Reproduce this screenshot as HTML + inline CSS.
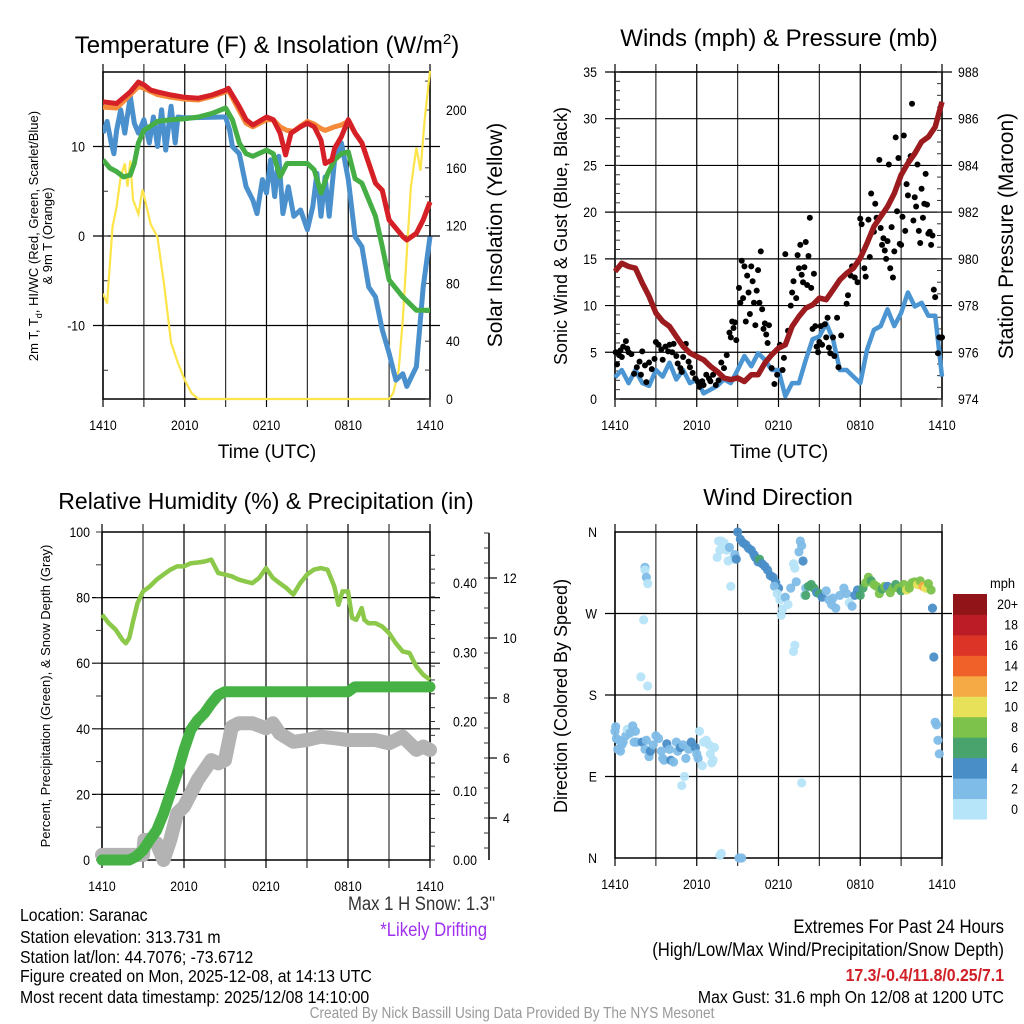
<!DOCTYPE html>
<html><head><meta charset="utf-8"><style>
html,body{margin:0;padding:0;background:#fff;}
svg{display:block;font-family:"Liberation Sans",sans-serif;}
</style></head><body>
<svg id="c" width="1024" height="1024" viewBox="0 0 1024 1024" xmlns="http://www.w3.org/2000/svg"></svg>
<script>
// ---------- Panel 1 data (hours since 1410 UTC) ----------
const redT=[0,15.0,1,14.8,2,16.1,2.6,17.2,3,16.9,3.5,16.3,4,16.1,5,15.75,6,15.5,7,15.4,8,15.75,9,16.3,9.2,16.5,10,14.45,10.5,13.0,11,12.4,12,13.3,12.5,13.0,13,11.5,13.4,9.05,13.8,11.5,14.5,12.2,15,12.6,15.5,12.2,16,10.7,16.3,8.1,16.8,8.5,17,9.8,17.5,11.1,18,13.0,18.5,11.5,19,10.4,20,5.9,20.5,5.1,21,1.8,22,-0.07,22.3,-0.45,23,0.3,23.5,1.8,24,3.8];
const orangeT=[0,14.4,1,14.3,2,15.8,2.6,16.7,3,16.5,4,15.8,5,15.5,6,15.3,7,15.2,8,15.6,9,16.1,9.2,16.3,10,14.0,10.5,12.6,11,12.2,12,13.0,12.5,13.0,13,12.2,13.5,11.8,14,11.7,14.5,12.3,15,12.8,15.5,12.5,16,12.0,16.3,11.8,17,12.2,17.5,12.4,18,12.8,18.5,11.5,19,10.4,20,5.9,20.5,5.1,21,1.8,22,-0.07,22.3,-0.45,23,0.3,23.5,1.8,24,3.8];
const greenTd=[0,8.5,0.5,7.6,1,7.2,1.5,6.6,2,6.8,2.3,8.1,2.6,10.4,3,11.8,4,12.8,5,13.0,6,13.1,7,13.3,8,13.7,9,14.3,9.5,13.0,10,10.4,10.5,9.2,11,8.9,12,9.6,12.5,9.2,13,6.6,13.5,8.1,14,8.1,15,8.1,15.5,7.4,16,4.8,16.5,7.0,17,8.5,17.5,9.2,18,9.4,18.5,6.4,19,5.9,20,2.2,20.5,-1.2,21,-4.9,22,-6.8,23,-8.3,24,-8.3];
const blueWC=[0,11.5,0.3,12.8,0.6,10.4,0.8,9.2,1,11.8,1.3,14.1,1.6,11.5,2,15.6,2.3,12.6,2.6,11.5,3,13.0,3.4,10.4,3.7,13.3,4,10.0,4.3,14.1,4.6,9.6,5,14.5,5.3,10.4,5.5,13.3,6,13.2,8.8,13.3,9,13.3,9.3,11.8,9.5,10.0,10,9.2,10.5,5.5,11,4.0,11.3,2.5,11.7,6.3,12,4.8,12.3,8.5,12.6,4.4,12.9,8.9,13.2,2.5,13.6,5.5,14,2.2,14.5,2.9,15,0.7,15.4,3.3,15.7,7.0,16,2.2,16.3,6.6,16.6,2.2,17,8.5,17.5,10.4,18,6.3,18.5,-0.07,19,-1.2,19.5,-5.7,20,-6.8,20.5,-10.5,21,-13.1,21.5,-16.1,22,-15.4,22.3,-16.8,23,-14.6,23.5,-5.7,24,-0.07];
const solar=[0,73,0.3,66,0.7,119,1,133,1.3,154,1.6,163,1.8,147,2,165,2.2,138,2.6,128,2.9,145,3.2,133,3.5,121,4,112,4.5,78,5,39,5.5,25,6,13,6.5,4,7,0,21,0,21.3,4,21.7,20,22,55,22.3,101,22.6,147,23,174,23.3,158,23.6,193,24,227];
// ---------- Panel 2 data ----------
const pressure=[0,979.46,0.5,979.81,1,979.67,1.5,979.6,2,978.96,2.5,978.39,3,977.68,3.5,977.32,4,977.11,4.5,976.68,5,976.25,5.5,975.97,6,975.82,6.5,975.68,7,975.4,7.5,975.18,8,974.9,8.5,974.83,9,974.9,9.5,974.75,10,975.04,10.5,975.04,11,975.54,11.5,975.89,12,976.18,12.5,976.32,13,977.11,13.5,977.53,14,977.89,14.5,978.03,15,978.32,15.5,978.25,16,978.67,16.5,979.1,17,979.38,17.5,979.6,18,980.03,18.5,980.67,19,981.38,19.5,981.81,20,982.23,20.5,982.8,21,983.59,21.5,984.09,22,984.51,22.5,985.01,23,985.22,23.5,985.65,24,986.72];
const windSpd=[0,2.3,0.5,3.1,1,1.7,1.5,3.1,2,1.7,2.5,1.4,3,3.1,3.5,2.4,4,3.9,4.5,2.1,5,3.1,5.5,1.7,6,2.1,6.5,0.6,7,1.0,7.5,1.4,8,2.1,8.5,1.7,9,3.1,9.5,4.6,10,3.5,10.5,4.9,11,4.2,11.5,3.1,12,3.1,12.5,0.3,13,1.7,13.5,1.7,14,4.2,14.5,6.4,15,6.7,15.5,8.1,16,6.4,16.5,3.1,17,3.1,17.5,2.4,18,1.7,18.5,5.3,19,7.4,19.5,7.8,20,9.6,20.5,7.8,21,9.2,21.5,11.4,22,9.9,22.5,10.3,23,8.9,23.5,8.9,24,2.4];
const gustT=[0.05,0.15,0.3,0.4,0.5,0.6,0.8,0.9,1,1.2,1.4,1.6,1.8,1.9,2.0,2.2,2.3,2.5,2.7,2.9,3.0,3.2,3.4,3.5,3.7,3.9,4.0,4.2,4.3,4.5,4.6,4.8,4.9,5.0,5.2,5.4,5.5,5.7,5.9,6.1,6.2,6.4,6.5,6.7,6.9,7.0,7.2,7.4,7.6,7.8,8.0,8.2,8.4,8.5,8.6,8.7,8.8,8.9,9.1,9.2,9.3,9.4,9.5,9.6,9.7,9.8,9.9,10.0,10.1,10.2,10.3,10.4,10.5,10.6,10.7,10.8,10.9,11.0,11.1,11.2,11.3,11.5,11.7,11.9,12.1,12.3,12.4,12.5,12.7,12.9,13.0,13.1,13.3,13.4,13.5,13.6,13.7,13.8,13.9,14.0,14.1,14.2,14.3,14.4,14.5,14.6,14.7,14.8,14.9,15.0,15.1,15.2,15.4,15.5,15.6,15.7,15.8,16.0,16.1,16.3,16.4,16.6,17.0,17.1,17.3,17.4,17.6,17.8,18.0,18.1,18.3,18.4,18.6,18.7,18.8,19.0,19.1,19.2,19.4,19.5,19.6,19.7,19.8,19.9,20.0,20.1,20.2,20.3,20.4,20.5,20.6,20.7,20.8,20.9,21.0,21.1,21.2,21.3,21.4,21.5,21.6,21.7,21.8,21.9,22.0,22.1,22.2,22.3,22.4,22.5,22.6,22.7,22.8,22.9,23.0,23.1,23.2,23.3,23.4,23.5,23.7,23.8,24.0];
const gustV=[5,3.7,4.7,5.2,4.5,5.6,6.2,5.4,5,4.8,2.7,3.4,4,2.6,5.1,3.6,1.8,3.9,3.2,4.3,6.1,5.8,5.3,4.2,5.6,5.1,5.8,5.0,5.9,4.6,3.8,3.3,2.9,4.5,5.9,4.0,3.4,2.8,2.2,1.8,1.3,1.9,1.5,2.6,2.2,1.9,2.6,1.5,2.0,3.9,3.3,4.7,7.1,6.6,8.3,7.6,8.2,6.3,11.9,10.3,14.8,10.8,14.2,8.3,13.2,11.4,9.1,14.2,12.6,10.3,7.9,11.6,13.8,10.3,15.8,9.6,7.5,8.1,6.9,6.0,7.9,3.3,1.6,2.6,5.8,3.1,4.4,15.5,7.3,10.0,11.4,12.6,10.8,15.4,14.0,16.5,13.3,12.5,14.1,16.8,12.2,15.3,19.4,11.9,7.5,13.4,7.8,5.6,5.0,6.1,7.8,5.8,8.0,6.6,8.7,5.5,4.9,6.6,4.6,8.7,3.4,6.8,10.2,11.1,13.2,14.2,13.0,12.5,19.3,18.7,14.0,13.1,19.2,15.2,22.0,17.9,20.9,19.4,25.6,18.3,16.5,17.2,15.9,15.0,16.9,25.1,14.0,18.4,13.0,15.8,28.0,20.1,25.8,16.6,16.5,19.5,28.2,18.0,23.0,21.8,25.5,26.0,31.6,19.1,21.6,20.6,25.1,18.0,16.7,22.5,19.4,20.9,24.1,20.8,17.7,17.9,16.5,17.5,11.7,10.9,4.9,6.6,6.6];
// ---------- Panel 3 data ----------
const rh=[0,74.8,0.5,72.2,1,70.2,1.5,67.1,1.75,66.1,2,67.7,2.3,73.2,2.6,78.3,3,81.9,3.5,83.4,4,85.5,4.5,87,5,88.5,5.5,89.5,6,89.5,6.5,90.5,7,90.7,7.5,91,8,91.6,8.5,87.5,9,87,9.5,86.5,10,85.5,10.5,84.9,11,84.4,11.5,86,12,89,12.5,86,13,84.4,13.5,82.9,14,80.9,14.5,84.4,15,87,15.5,88.5,16,89,16.5,88.5,17,83.4,17.3,77.8,17.6,81.9,18,81.9,18.3,73.8,18.6,73.2,19,76.8,19.2,73.2,19.5,72.2,20,72.2,20.5,71.2,21,69.2,21.5,66.1,22,63.6,22.5,63.1,23,59,23.5,56.5,24,54.9];
const precip=[0,0,2,0,2.5,0.005,3,0.014,3.5,0.029,4,0.043,4.5,0.067,5,0.096,5.5,0.125,6,0.159,6.5,0.188,7,0.202,7.5,0.212,8,0.226,8.5,0.238,9,0.243,18,0.243,18.5,0.25,24,0.25];
const snow=[0,2.77,3.0,2.77,3.1,3.27,3.5,3.27,4,3.16,4.5,2.6,5,3.27,5.5,4.16,6,4.38,6.5,4.82,7,5.27,7.5,5.6,8,5.93,8.5,5.82,9,5.93,9.5,7.04,10,7.16,11,7.16,12,6.99,12.5,7.16,13,6.82,14,6.54,15,6.6,16,6.71,17,6.66,18,6.6,20,6.6,21,6.49,22,6.71,23,6.27,23.5,6.38,24,6.27];
// ---------- Panel 4 data (hour, direction deg, speed mph) ----------
const dirT=[0,0.05,0.1,0.2,0.3,0.4,0.5,0.6,0.8,0.9,1.1,1.3,1.5,1.6,1.4,2.0,2.2,2.3,2.5,2.6,2.8,3.0,3.2,3.4,3.5,3.6,3.8,4.0,4.1,4.3,4.5,4.6,4.8,5.0,5.2,5.4,5.6,5.9,6.0,6.1,6.2,6.4,6.5,6.7,6.9,7.0,7.1,7.2,7.3,5.1,4.9,2.2,2.2,2.3,2.4,2.1,1.9,2.4,7.6,7.8,8.0,7.7,7.5,8.2,8.4,8.6,8.3,8.5,8.8,8.9,7.7,7.8,9.1,9.3,9.0,9.2,9.4,9.6,9.8,10.0,10.2,10.3,10.5,10.6,10.8,11.0,11.2,11.4,11.6,11.8,12.0,11.7,11.9,12.1,12.2,12.3,12.5,12.7,12.9,13.1,13.2,13.3,13.5,13.6,13.7,13.8,14.0,13.9,13.2,13.1,13.7,14.0,14.2,14.4,14.6,14.8,15.0,15.2,15.5,15.7,15.9,16.0,16.2,16.5,16.8,17.0,17.2,17.4,17.6,17.8,18.0,18.2,18.4,18.6,18.8,19.0,19.2,19.4,19.6,19.8,20.0,20.2,20.4,20.6,20.8,21.0,21.2,21.4,21.6,21.8,22.0,22.2,22.4,22.6,22.8,23.0,23.2,23.3,23.4,23.5,23.6,23.7,23.8];
const dirDeg=[140,145,132,120,130,118,125,128,135,142,138,146,140,128,128,128,120,130,112,118,125,135,132,118,110,108,126,120,108,106,128,118,122,125,110,120,128,122,115,110,140,102,128,130,125,115,105,108,122,90,80,321,318,310,303,263,200,190,350,350,348,340,332,340,343,330,328,300,335,330,3,5,0,0,360,352,348,346,342,340,335,332,327,330,325,322,318,312,310,304,298,300,292,285,268,275,288,280,298,325,320,305,338,350,345,328,298,290,235,228,83,290,300,302,298,293,292,288,295,285,280,287,276,290,298,292,282,278,290,296,290,298,304,310,306,302,300,292,297,300,300,293,298,302,298,295,302,296,298,304,305,302,306,300,298,303,296,276,222,150,147,130,115];
const dirSpd=[3,3,3,3,3,3,3,3,3,1, 3,3,3,3,3,5,3,3,3,5, 3,3,3,3,3,3,5,3,5,3, 3,3,5,3,3,3,5,5,3,3, 1,1,1,1,1,1,1,1,1, 1,1, 3,1,3,1,1,1,1, 1,1,1,1,1,1,3,1,1,1, 3,5,1,1,3,3, 5,5,5,5,5,5,5,5,5,7, 5,5,5,5,5,5,5,3,1,1, 1,1,3,1,3,1,1,3,3,3, 3,5,3,1,1,1,1, 7,7,7,7,5,7,5,3,3,3, 3,3,3,3,3,1,3,5,5,7, 7,9,9,7,9,9,9,7,9,5, 9,9,7,9,7,9,11,9,9,9, 11,9,13,11,9,9,5,5,3,3, 3,3];
const binLabels=["0","2","4","6","8","10","12","14","16","18","20+"];
const binColors=["#b6e4f8","#7fbce7","#4a8ec8","#48a46c","#7cc24b","#e6e158","#f6aa46","#ef6128","#dc3427","#bb1c25","#911518"];
const timeLabels=["1410","2010","0210","0810","1410"];

const svg=document.getElementById('c');
const NS="http://www.w3.org/2000/svg";
function el(tag,attrs,parent){const e=document.createElementNS(NS,tag);for(const k in attrs)e.setAttribute(k,attrs[k]);(parent||svg).appendChild(e);return e;}
function txt(s,x,y,size,anchor,parent,extra){const t=el('text',Object.assign({x:x,y:y,'font-size':size,'text-anchor':anchor||'middle',fill:'#000'},extra||{}),parent);t.textContent=s;return t;}
function ntxt(s,x,y,size,anchor,parent,extra){const gg=el('g',{transform:'translate('+x+','+y+') scale(0.88,1)'},parent);return txt(s,0,0,size,anchor,gg,extra);}
function pts(arr,fx,fy){let d='';for(let i=0;i<arr.length;i+=2)d+=(i?'L':'M')+fx(arr[i]).toFixed(1)+','+fy(arr[i+1]).toFixed(1);return d;}

function frame(x0,x1,y0,y1,g,hY){
  for(let h=0;h<=24;h+=3){const x=x0+(x1-x0)*h/24;const l=el('line',{x1:x,x2:x,y1:y0-8,y2:y1+8,stroke:(h%6==0)?'#000':'#333','stroke-width':1.2},g);}
  hY.forEach(y=>{const l=el('line',{x1:x0-10,x2:x1+10,y1:y,y2:y,stroke:'#000','stroke-width':1.2},g);});
  el('rect',{x:x0,y:y0,width:x1-x0,height:y1-y0,fill:'none',stroke:'#000','stroke-width':1.5},g);
  for(let i=0;i<timeLabels.length;i++){const t=ntxt(timeLabels[i],x0+(x1-x0)*i/4,y1+31,14,'middle',g);}
}
function minor(x,ys,dir,g){ys.forEach(y=>el('line',{x1:x,x2:x+dir*5,y1:y,y2:y,stroke:'#333','stroke-width':1},g));}

// ================= Panel 1 =================
(function(){
const g=el('g',{});
const x0=103,x1=430,y0=72,y1=399;
const X=h=>x0+(x1-x0)*h/24, T=v=>236-8.95*v, S=v=>399-1.445*v;
frame(x0,x1,y0,y1,g,[T(10),T(0),T(-10)]);
const mi=[];for(let v=-15;v<=15;v+=5)mi.push(T(v));minor(x0,mi,1,g);
const ms=[];for(let v=0;v<=220;v+=20)ms.push(S(v));minor(x1,ms,-1,g);
[10,0,-10].forEach(v=>{const t=ntxt(String(v),x0-18,T(v)+5,14,'end',g);});
[0,40,80,120,160,200].forEach(v=>{const t=ntxt(String(v),x1+16,S(v)+5,14,'start',g);});
const clip=el('clipPath',{id:'cp1'},g);el('rect',{x:x0,y:y0-3,width:x1-x0+4,height:y1-y0+6},clip);
const lg=el('g',{'clip-path':'url(#cp1)'},g);
const s1=el('path',{d:pts(solar,X,S),fill:'none',stroke:'#fce449','stroke-width':2.2},lg);
const s2=el('path',{d:pts(blueWC,X,T),fill:'none',stroke:'#4a90cd','stroke-width':5,'stroke-linejoin':'round'},lg);
const s3=el('path',{d:pts(greenTd,X,T),fill:'none',stroke:'#45ae45','stroke-width':5,'stroke-linejoin':'round'},lg);
const s4=el('path',{d:pts(orangeT,X,T),fill:'none',stroke:'#f58a3a','stroke-width':5,'stroke-linejoin':'round'},lg);
const s5=el('path',{d:pts(redT,X,T),fill:'none',stroke:'#d62027','stroke-width':5,'stroke-linejoin':'round'},lg);
const ti=txt('',267,53,24,'middle',g);ti.innerHTML='Temperature (F) &amp; Insolation (W/m<tspan dy="-9" font-size="15">2</tspan><tspan dy="9">)</tspan>';
const yl=el('g',{transform:'translate(38,236) rotate(-90)'},g);
const a=txt('',0,0,13,'middle',yl);a.innerHTML='2m T, T<tspan dy="4" font-size="9">d</tspan><tspan dy="-4">, HI/WC (Red, Green, Scarlet/Blue)</tspan>';
txt('& 9m T (Orange)',0,14,13,'middle',yl);
const r=txt('Solar Insolation (Yellow)',0,0,21,'middle',g,{transform:'translate(502,235) rotate(-90)'});
const xt=txt('Time (UTC)',267,458,19,'middle',g);
})();

// ================= Panel 2 =================
(function(){
const g=el('g',{});
const x0=615,x1=942,y0=72,y1=399;
const X=h=>x0+(x1-x0)*h/24, W=v=>399-9.343*v, P=v=>399-(v-974)*23.36;
const hy=[];for(let v=5;v<=30;v+=5)hy.push(W(v));
frame(x0,x1,y0,y1,g,hy.concat([W(35)]));
const mi=[];for(let v=0;v<=35;v+=1)mi.push(W(v));minor(x0,mi,1,g);
const mp=[];for(let v=974;v<=988;v+=0.5)mp.push(P(v));minor(x1,mp,-1,g);
for(let v=0;v<=35;v+=5){const t=ntxt(String(v),x0-18,W(v)+5,14,'end',g);}
for(let v=974;v<=988;v+=2){const t=ntxt(String(v),x1+16,P(v)+5,14,'start',g);}
const s1=el('path',{d:pts(windSpd,X,W),fill:'none',stroke:'#4b95d3','stroke-width':4.5,'stroke-linejoin':'round'},g);
const dg=el('g',{},g);
for(let i=0;i<gustT.length;i++){const c=el('circle',{cx:X(gustT[i]),cy:W(gustV[i]),r:3,fill:'#000'},dg);}
const s2=el('path',{d:pts(pressure,X,P),fill:'none',stroke:'#9b1b1e','stroke-width':5.5,'stroke-linejoin':'round'},g);
const ti=txt('Winds (mph) & Pressure (mb)',779,46,24,'middle',g);
const l=txt('Sonic Wind & Gust (Blue, Black)',0,0,18,'middle',g,{transform:'translate(567,236) rotate(-90)'});
const r=txt('Station Pressure (Maroon)',0,0,21,'middle',g,{transform:'translate(1013,236) rotate(-90)'});
const xt=txt('Time (UTC)',779,458,19,'middle',g);
})();

// ================= Panel 3 =================
(function(){
const g=el('g',{});
const x0=102,x1=430,y0=532,y1=860;
const X=h=>x0+(x1-x0)*h/24, R=v=>860-3.28*v, PR=v=>860-v*692.5, SD=v=>578+(12-v)*30;
frame(x0,x1,y0,y1,g,[R(20),R(40),R(60),R(80)]);
const mi=[];for(let v=0;v<=100;v+=10)mi.push(R(v));minor(x0-6,mi,1,g);
for(let v=0;v<=100;v+=20){const t=ntxt(String(v),x0-12,R(v)+5,14,'end',g);}
const mp=[];for(let v=0;v<=0.46;v+=0.02)mp.push(PR(v));minor(x1,mp,1,g);
for(let v=0;v<=0.41;v+=0.1){const t=ntxt(v.toFixed(2),x1+23,PR(v)+5,14,'start',g);}
el('line',{x1:489,x2:489,y1:533,y2:860,stroke:'#000','stroke-width':1.5},g);
const ms=[];for(let v=3;v<=13.5;v+=0.5)ms.push(SD(v));minor(489,ms,-1,g);
for(let v=4;v<=12;v+=2){el('line',{x1:489,x2:497,y1:SD(v),y2:SD(v),stroke:'#000','stroke-width':1.2},g);const t=ntxt(String(v),503,SD(v)+5,14,'start',g);}
const s1=el('path',{d:pts(snow,X,SD),fill:'none',stroke:'#b3b3b3','stroke-width':14,'stroke-linejoin':'round','stroke-linecap':'round'},g);
const s2=el('path',{d:pts(precip,X,PR),fill:'none',stroke:'#46b246','stroke-width':11,'stroke-linejoin':'round','stroke-linecap':'round'},g);
const s3=el('path',{d:pts(rh,X,R),fill:'none',stroke:'#8cc94a','stroke-width':4.5,'stroke-linejoin':'round'},g);
const ti=txt('Relative Humidity (%) & Precipitation (in)',266,509,23,'middle',g);
const l=txt('Percent, Precipitation (Green), & Snow Depth (Gray)',0,0,13,'middle',g,{transform:'translate(50,696) rotate(-90)'});
})();

// ================= Panel 4 =================
(function(){
const g=el('g',{});
const x0=615,x1=942,y0=532,y1=858;
const X=h=>x0+(x1-x0)*h/24, D=v=>858-v*(326/360);
frame(x0,x1,y0,y1,g,[D(270),D(180),D(90)]);
['N','E','S','W','N'].forEach((s,i)=>{const t=ntxt(s,x0-18,D(i*90)+5,14,'end',g);});
const dg=el('g',{},g);
for(let i=0;i<dirT.length;i++){const b=Math.min(10,Math.floor(dirSpd[i]/2));const c=el('circle',{cx:X(dirT[i]),cy:D(dirDeg[i]),r:4.6,fill:binColors[b],'fill-opacity':0.95},dg);}
const ti=txt('Wind Direction',778,505,23,'middle',g);
const l=txt('Direction (Colored By Speed)',0,0,18,'middle',g,{transform:'translate(567,696) rotate(-90)'});
const cb=el('g',{},g);
const bh=225/11;
for(let k=0;k<11;k++){const y=594+(10-k)*bh;const r=el('rect',{x:953,y:y,width:34,height:bh+0.5,fill:binColors[k]},cb);const t=ntxt(binLabels[k],1018,y+bh/2+5,14,'end',cb);}
const u=txt('mph',990,588,14,'start',cb,{transform:'translate(990,588) scale(0.92,1) translate(-990,-588)'});
})();

// ================= Footer =================
(function(){
const g=el('g',{});
const lines=['Location: Saranac','Station elevation: 313.731 m','Station lat/lon: 44.7076; -73.6712','Figure created on Mon, 2025-12-08, at 14:13 UTC','Most recent data timestamp: 2025/12/08 14:10:00'];
const ys=[921,943,963,982,1003];
lines.forEach((s,i)=>{const t=ntxt(s,20,ys[i],18,'start',g);});
let t=ntxt('Max 1 H Snow: 1.3"',495,910,19,'end',g,{fill:'#333'});
t=ntxt('*Likely Drifting',487,936,19,'end',g,{fill:'#a030f0'});
t=ntxt('Extremes For Past 24 Hours',1004,933,19,'end',g);
t=ntxt('(High/Low/Max Wind/Precipitation/Snow Depth)',1004,956,19,'end',g);
t=ntxt('17.3/-0.4/11.8/0.25/7.1',1004,981,18,'end',g,{fill:'#d01f26','font-weight':'bold'});
t=ntxt('Max Gust: 31.6 mph On 12/08 at 1200 UTC',1004,1003,18,'end',g);
t=ntxt('Created By Nick Bassill Using Data Provided By The NYS Mesonet',512,1018,15.5,'middle',g,{fill:'#999'});
})();
</script>
</body></html>
